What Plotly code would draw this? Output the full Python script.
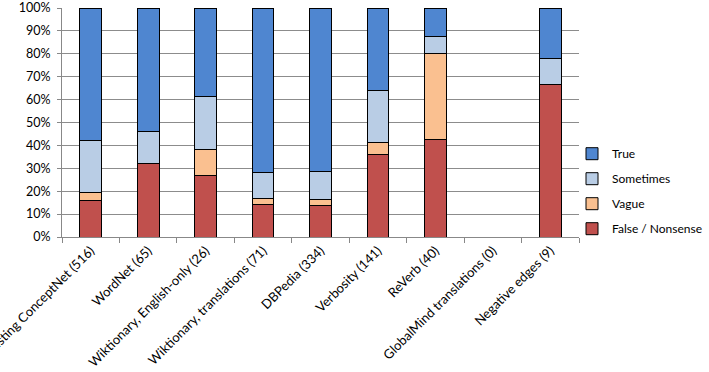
import plotly.graph_objects as go

categories = ["Existing ConceptNet (516)", "WordNet (65)", "Wiktionary, English-only (26)",
              "Wiktionary, translations (71)", "DBPedia (334)", "Verbosity (141)",
              "ReVerb (40)", "GlobalMind translations (0)", "Negative edges (9)"]
false_vals = [16.1, 32.3, 26.9, 14.1, 13.8, 36.2, 42.5, 0, 66.7]
vague_vals = [3.3, 0, 11.5, 2.8, 2.7, 5.0, 37.5, 0, 0]
sometimes_vals = [22.7, 13.8, 23.1, 11.3, 12.3, 22.7, 7.5, 0, 11.1]
true_vals = [57.9, 53.9, 38.5, 71.8, 71.2, 36.1, 12.5, 0, 22.2]

series = [
    ("False / Nonsense", false_vals, "#C0504D", 4),
    ("Vague", vague_vals, "#FAC090", 3),
    ("Sometimes", sometimes_vals, "#B9CDE5", 2),
    ("True", true_vals, "#4F86D0", 1),
]

fig = go.Figure()
for name, vals, color, rank in series:
    fig.add_trace(go.Bar(x=categories, y=vals, name=name, legendgroup=name, legendrank=rank,
                         marker=dict(color=color, line=dict(color="#000000", width=1))))

font = "Lato, 'Open Sans', sans-serif"
fig.update_layout(
    width=709, height=372,
    barmode="stack", bargap=0.62,
    plot_bgcolor="white", paper_bgcolor="white",
    margin=dict(l=62, r=130, t=8, b=135, autoexpand=False),
    font=dict(family=font, size=12, color="#000000"),
    legend=dict(x=(572 - 62) / 517, y=0.2, xanchor="left", yanchor="middle",
                traceorder="grouped", tracegroupgap=6,
                font=dict(size=12), bgcolor="rgba(0,0,0,0)"),
    showlegend=True,
)
fig.update_xaxes(tickangle=-45, tickson="boundaries", ticks="outside", ticklen=5,
                 tickcolor="#888888", showline=True, linecolor="#888888",
                 automargin=False, tickfont=dict(size=13))
fig.update_yaxes(range=[0, 100], dtick=10, ticksuffix="%", ticks="outside", ticklen=4,
                 tickcolor="#888888", showline=True, linecolor="#888888",
                 showgrid=True, gridcolor="#8c8c8c", gridwidth=1, automargin=False,
                 tickfont=dict(size=12.5), ticklabelstandoff=4)
fig.write_html("out.html")
